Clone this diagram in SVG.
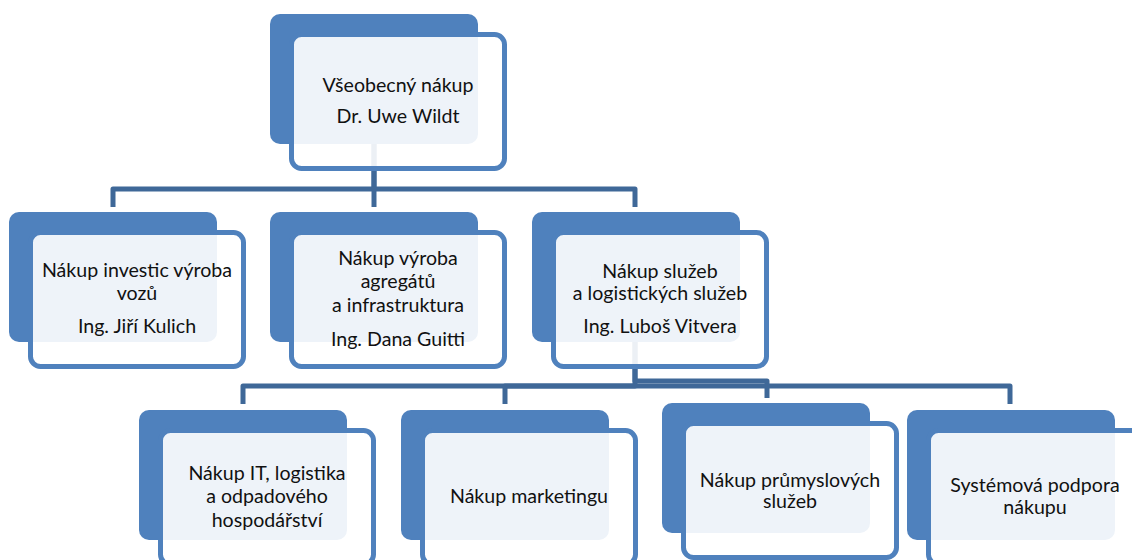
<svg xmlns="http://www.w3.org/2000/svg" width="1132" height="560" viewBox="0 0 1132 560">
<style>
.back{fill:#4F81BD}
.front{fill:#FFFFFF;fill-opacity:0.9;stroke:#4F81BD;stroke-width:5}
.conn{fill:none;stroke:#3F6898;stroke-width:5;stroke-linejoin:round}
text{font-family:Lato,"Liberation Sans",sans-serif;font-size:19.6px;fill:#111;text-anchor:middle}
</style>
<rect width="1132" height="560" fill="#FFFFFF"/>
<g id="connectors">
<path class="conn" d="M374 144 V189 H113 V207"/>
<path class="conn" d="M374 144 V207"/>
<path class="conn" d="M374 189 H635 V207"/>
<path class="conn" d="M635 342 V386 H243 V404"/>
<path class="conn" d="M635 386 H505 V404"/>
<path class="conn" d="M635 342 V381 H767 V398"/>
<path class="conn" d="M635 386 H1010 V404"/>
</g>
<g id="n-top">
<rect class="back" x="270" y="14" width="208" height="130" rx="10"/>
<rect class="front" x="291.5" y="34.5" width="213" height="134" rx="10"/>
<text x="398" y="92">Všeobecný nákup</text>
<text x="398" y="123">Dr. Uwe Wildt</text>
</g>
<g id="n-investic">
<rect class="back" x="9" y="212" width="208" height="130" rx="10"/>
<rect class="front" x="30.5" y="232.5" width="213" height="134" rx="10"/>
<text x="137" y="277">Nákup investic výroba</text>
<text x="137" y="300">vozů</text>
<text x="137" y="333">Ing. Jiří Kulich</text>
</g>
<g id="n-agregaty">
<rect class="back" x="270" y="212" width="208" height="130" rx="10"/>
<rect class="front" x="291.5" y="232.5" width="213" height="134" rx="10"/>
<text x="398" y="265">Nákup výroba</text>
<text x="398" y="288">agregátů</text>
<text x="398" y="312">a infrastruktura</text>
<text x="398" y="346">Ing. Dana Guitti</text>
</g>
<g id="n-sluzby">
<rect class="back" x="532" y="212" width="208" height="130" rx="10"/>
<rect class="front" x="553.5" y="232.5" width="213" height="134" rx="10"/>
<text x="660" y="278">Nákup služeb</text>
<text x="660" y="300">a logistických služeb</text>
<text x="660" y="333">Ing. Luboš Vitvera</text>
</g>
<g id="n-it">
<rect class="back" x="139" y="410" width="208" height="130" rx="10"/>
<rect class="front" x="160.5" y="430.5" width="213" height="134" rx="10"/>
<text x="267" y="480">Nákup IT, logistika</text>
<text x="267" y="503">a odpadového</text>
<text x="267" y="527">hospodářství</text>
</g>
<g id="n-marketing">
<rect class="back" x="401" y="410" width="208" height="130" rx="10"/>
<rect class="front" x="422.5" y="430.5" width="213" height="134" rx="10"/>
<text x="529" y="503">Nákup marketingu</text>
</g>
<g id="n-prumysl">
<rect class="back" x="662" y="403" width="208" height="130" rx="10"/>
<rect class="front" x="683.5" y="423.5" width="213" height="134" rx="10"/>
<text x="790" y="487">Nákup průmyslových</text>
<text x="790" y="508">služeb</text>
</g>
<g id="n-system">
<rect class="back" x="907" y="410" width="208" height="130" rx="10"/>
<rect class="front" x="928.5" y="430.5" width="213" height="134" rx="10"/>
<text x="1035" y="492">Systémová podpora</text>
<text x="1035" y="514">nákupu</text>
</g>
</svg>
